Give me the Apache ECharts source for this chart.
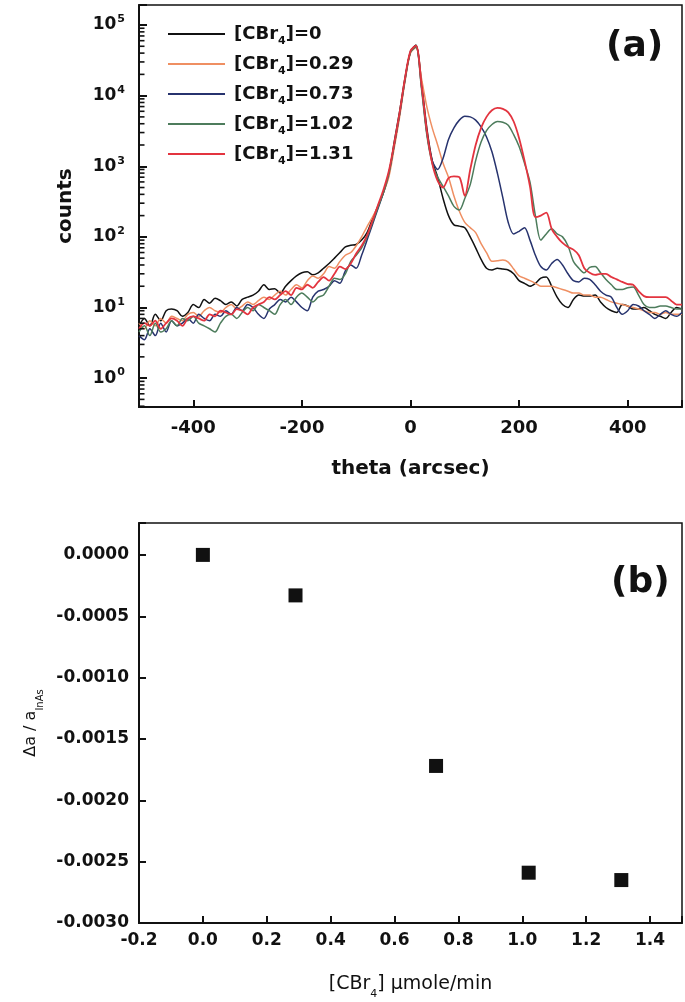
<!DOCTYPE html>
<html><head><meta charset="utf-8">
<script src="https://cdn.jsdelivr.net/npm/echarts@6/dist/echarts.min.js"></script>
<style>html,body{margin:0;padding:0;background:#fff}#c{width:685px;height:1002px}</style>
</head><body><div id="c"></div>
<script>
// ---- panel (a): x-ray rocking curves ----
const theta = [
 -500,-490,-480,-470,-460,-450,-440,-430,-420,-410,
 -400,-390,-380,-370,-360,-350,-340,-330,-320,-310,
 -300,-290,-280,-270,-260,-250,-240,-230,-220,-210,
 -200,-190,-180,-170,-160,-150,-140,-130,-120,-110,
 -100,-90,-80,-70,-60,-50,-40,-30,-20,-10,
 0,10,20,30,40,50,60,70,80,90,
 100,110,120,130,140,150,160,170,180,190,
 200,210,220,230,240,250,260,270,280,290,
 300,310,320,330,340,350,360,370,380,390,
 400,410,420,430,440,450,460,470,480,490,
 500];
const countsCbr0 = [
 5.5,7.0,5.5,8.0,6.5,9.0,9.5,9.0,7.5,8.5,
 11,10,13,11.5,13.5,12.5,11,12,10.5,13,
 14,15,17,21,18,18.5,16,20,24,28,
 31,32,29,31,36,42,50,60,72,76,
 78,90,115,180,270,420,750,2200,6000,18000,
 42000,52000,16000,3500,1200,700,350,200,148,142,
 135,100,70,48,36,34,36,35,34,30,
 24,22,20,22,26,27,20,14,11,10,
 13,15,14.5,14.5,15,12,10,9,8.5,11,
 10.5,9.5,9.5,10,9,8,7.5,7.0,8.5,10,
 9.5];
const countsCbr029 = [
 6.0,5.0,6.5,5.5,7.0,6.0,7.5,7.0,6.5,8.0,
 8.5,7.5,9.0,10,9.0,8.5,10,11,9.5,10.5,
 12,11,12.5,14,13,15,17,15,18,21,
 19,24,28,26,30,38,36,45,55,60,
 75,100,140,190,270,420,700,1800,5000,16000,
 40000,48000,18000,7000,3500,2000,1100,700,380,230,
 160,135,115,80,60,45,46,47,44,35,
 28,26,24,22,20,20,20,19,18,17,
 16,16,15,15,14,14,13,12,11.5,11,
 10.5,10,9.5,9,8.5,8.5,8.0,8.5,8.0,8.0,
 8.0];
const countsCbr073 = [
 4.0,3.5,5.0,4.0,6.0,4.5,6.5,5.5,6.0,7.0,
 6.0,8.0,7.0,6.5,8.0,7.5,9.0,8.0,10,9.0,
 11,10,8.0,7.0,9.5,11,13,12,14,12,
 10,9.0,14,17,18,20,24,22,33,40,
 36,55,90,150,250,420,800,2000,5500,17000,
 42000,50000,14000,3000,1200,900,1300,2400,3500,4500,
 5100,5000,4500,3600,2600,1600,800,360,160,110,
 120,135,90,55,38,34,42,48,40,30,
 24,23,26,25,21,17,15,14,10,8.0,
 9.0,11,10.5,9.0,8.0,7.0,8.0,9.0,8.0,7.5,
 8.5];
const countsCbr102 = [
 4.5,5.5,4.0,6.0,4.5,5.0,6.5,5.5,7.0,6.5,
 7.5,6.0,5.5,5.0,4.5,6.0,7.5,8.0,7.0,8.5,
 10,9.0,11,10,9.0,8.0,11,13,11,14,
 16,14,12,14,15,20,26,25,30,45,
 55,70,100,160,260,420,780,2000,5500,17000,
 41000,49000,13000,2800,1100,700,520,380,270,240,
 350,550,1200,2200,3200,3900,4300,4200,3800,2800,
 1900,1100,600,200,90,110,130,110,100,75,
 45,36,31,37,38,31,25,21,18,18,
 19,19.5,15,11,10,10,10.5,10.5,10,9.5,
 9.5];
const countsCbr131 = [
 5.0,6.0,5.5,6.5,5.0,6.0,7.0,6.5,5.5,7.0,
 7.5,7.0,6.5,8.0,7.5,9.0,8.5,8.0,9.5,9.0,
 8.0,10,11,12,14,13,15,17,15,19,
 18,21,19,23,27,24,30,38,35,42,
 58,75,105,170,280,460,850,2100,5800,18000,
 43000,51000,15000,3200,1100,620,500,680,720,700,
 380,900,2000,3500,5000,6200,6700,6500,5800,4300,
 2500,1200,520,190,200,220,130,100,82,72,
 66,55,36,31,29,30,30,27,25,23,
 21.5,21,17,14.5,14,14,14,14,12.5,11,
 11];
const seriesNames = ['[CBr4]=0','[CBr4]=0.29','[CBr4]=0.73','[CBr4]=1.02','[CBr4]=1.31'];
const seriesColors = ['#111111','#ef8f62','#27336e','#4d7c5c','#e3343f'];
const seriesCounts = [countsCbr0, countsCbr029, countsCbr073, countsCbr102, countsCbr131];
const logMinorTicks = [0.4,0.5,0.6,0.7,0.8,0.9,2,3,4,5,6,7,8,9,20,30,40,50,60,70,80,90,
  200,300,400,500,600,700,800,900,2000,3000,4000,5000,6000,7000,8000,9000,
  20000,30000,40000,50000,60000,70000,80000,90000];
const thetaMin = -500, thetaMax = 500;
const countsMin = 0.39, countsMax = 192000;

// ---- panel (b): lattice mismatch ----
const cbr4Rate = [0, 0.29, 0.73, 1.02, 1.31];
const latticeShift = [0.0000, -0.00033, -0.00172, -0.00259, -0.00265];

const FONT = 'DejaVu Sans';
const INK = '#111111';
const chart = echarts.init(document.getElementById('c'), null, {renderer: 'canvas'});

const lineSeries = seriesNames.map((name, k) => ({
  name: name, type: 'line', xAxisIndex: 0, yAxisIndex: 0,
  data: theta.map((t, i) => [t, seriesCounts[k][i]]),
  symbol: 'none', smooth: 0.3,
  lineStyle: {color: seriesColors[k], width: k === 4 ? 1.8 : 1.5},
  itemStyle: {color: seriesColors[k]},
  z: 3 + k
}));

// minor log ticks: short marks placed on the y axis at 2..9 x 10^n
const minorTickSeries = {
  type: 'scatter', xAxisIndex: 0, yAxisIndex: 0, silent: true, clip: false,
  data: logMinorTicks.map(v => [thetaMin, v]),
  symbol: 'rect', symbolSize: [5, 1.6], symbolOffset: [3, 0],
  itemStyle: {color: INK, opacity: 1},
  z: 10
};

const option = {
  animation: false,
  backgroundColor: '#ffffff',
  grid: [
    {left: 139, top: 5, width: 545, height: 402, show: true, borderColor: INK, borderWidth: 1.5, backgroundColor: 'transparent'},
    {left: 139, top: 523, width: 545, height: 400, show: true, borderColor: INK, borderWidth: 1.5, backgroundColor: 'transparent'}
  ],
  legend: {
    data: seriesNames, orient: 'vertical', left: 163, top: 18,
    icon: 'rect', itemWidth: 57, itemHeight: 2, itemGap: 6,
    formatter: n => n.replace('CBr4', 'CBr{sub|4}'),
    textStyle: {fontFamily: FONT, fontWeight: 'bold', fontSize: 18, color: INK, padding: [0, 0, 0, 4], lineHeight: 22,
      rich: {sub: {fontFamily: FONT, fontWeight: 'bold', fontSize: 11, color: INK, lineHeight: 11, verticalAlign: 'top', padding: [13, 0, 0, 0]}}}
  },
  xAxis: [
    {gridIndex: 0, type: 'value', min: thetaMin, max: thetaMax, splitNumber: 5,
      name: 'theta (arcsec)', nameLocation: 'middle', nameGap: 52,
      nameTextStyle: {fontFamily: FONT, fontWeight: 'bold', fontSize: 20, color: INK},
      axisLine: {onZero: false, lineStyle: {color: INK, width: 2}},
      axisTick: {inside: true, length: 7, lineStyle: {color: INK, width: 2}},
      axisLabel: {margin: 12, fontFamily: FONT, fontWeight: 'bold', fontSize: 18, color: INK,
        formatter: v => (Math.abs(v) >= 500 ? '' : String(v))},
      splitLine: {show: false}},
    {gridIndex: 1, type: 'value', min: -0.2, max: 1.5, interval: 0.2,
      name: '[CBr{sub|4}] \u03bcmole/min', nameLocation: 'middle', nameGap: 52,
      nameTextStyle: {fontFamily: FONT, fontSize: 19, color: INK,
        rich: {sub: {fontFamily: FONT, fontSize: 11, color: INK, lineHeight: 11, verticalAlign: 'top', padding: [14, 0, 0, 0]}}},
      axisLine: {onZero: false, lineStyle: {color: INK, width: 2}},
      axisTick: {inside: true, length: 7, lineStyle: {color: INK, width: 2}},
      axisLabel: {margin: 9, fontFamily: FONT, fontWeight: 'bold', fontSize: 17, color: INK,
        formatter: v => (v > 1.45 ? '' : v.toFixed(1))},
      splitLine: {show: false}}
  ],
  yAxis: [
    {gridIndex: 0, type: 'log', logBase: 10, min: countsMin, max: countsMax,
      name: 'counts', nameLocation: 'middle', nameGap: 63,
      nameTextStyle: {fontFamily: FONT, fontWeight: 'bold', fontSize: 20, color: INK},
      axisLine: {onZero: false, lineStyle: {color: INK, width: 2}},
      axisTick: {inside: true, length: 8, lineStyle: {color: INK, width: 2}},
      axisLabel: {margin: 14, fontFamily: FONT, fontWeight: 'bold', fontSize: 17, color: INK,
        formatter: function (v) {
          const e = Math.round(Math.log10(v));
          if (Math.abs(v - Math.pow(10, e)) / v > 1e-6) return '';
          return '{b|10}{s|' + e + '}';
        },
        rich: {
          b: {fontFamily: FONT, fontWeight: 'bold', fontSize: 17, color: INK, lineHeight: 22},
          s: {fontFamily: FONT, fontWeight: 'bold', fontSize: 11, color: INK, lineHeight: 11, verticalAlign: 'top', padding: [0, 0, 0, 1]}
        }},
      splitLine: {show: false}},
    {gridIndex: 1, type: 'value', min: -0.003, max: 0.00026, interval: 0.0005,
      name: '\u0394a / a{sub|InAs}', nameLocation: 'middle', nameGap: 100,
      nameTextStyle: {fontFamily: FONT, fontSize: 16, color: INK,
        rich: {sub: {fontFamily: FONT, fontSize: 10, color: INK, lineHeight: 10, verticalAlign: 'top', padding: [12, 0, 0, 0]}}},
      axisLine: {onZero: false, lineStyle: {color: INK, width: 2}},
      axisTick: {inside: true, length: 7, lineStyle: {color: INK, width: 2}},
      axisLabel: {margin: 10, fontFamily: FONT, fontWeight: 'bold', fontSize: 17, color: INK,
        formatter: function (v) {
          if (v > 0.0001) return '';
          if (Math.abs(v) < 1e-9) return '0.0000';
          return v.toFixed(4);
        }},
      splitLine: {show: false}}
  ],
  graphic: [
    {type: 'text', left: 606, top: 29, style: {text: '(a)', fontFamily: FONT, fontWeight: 'bold', fontSize: 36, fill: INK}},
    {type: 'text', left: 611, top: 565, style: {text: '(b)', fontFamily: FONT, fontWeight: 'bold', fontSize: 36, fill: INK}}
  ],
  series: lineSeries.concat([minorTickSeries, {
    type: 'scatter', xAxisIndex: 1, yAxisIndex: 1,
    data: cbr4Rate.map((x, i) => [x, latticeShift[i]]),
    symbol: 'rect', symbolSize: 14, itemStyle: {color: INK, opacity: 1}
  }])
};
chart.setOption(option);
</script></body></html>
